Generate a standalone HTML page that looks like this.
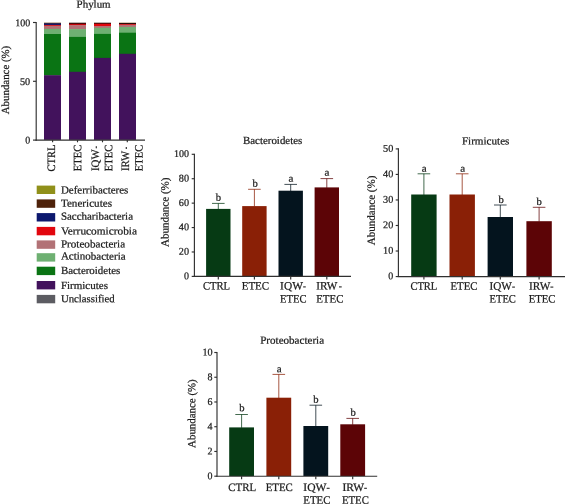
<!DOCTYPE html>
<html><head><meta charset="utf-8"><title>Phylum abundance</title>
<style>
html,body{margin:0;padding:0;background:#fff;}
svg{display:block;font-family:"Liberation Serif", "DejaVu Serif", serif;}
svg text{fill:#1c1c1c;stroke:#1c1c1c;stroke-width:0.24px;}
</style></head>
<body>
<svg width="565" height="504" viewBox="0 0 565 504">
<rect x="0" y="0" width="565" height="504" fill="#ffffff"/>
<g id="phylum">
<text transform="translate(76.6,7.8) rotate(0.05)" font-size="10.9" text-anchor="start" textLength="34" lengthAdjust="spacingAndGlyphs">Phylum</text>
<text transform="translate(9.0,80) rotate(-89.95)" font-size="10.9" text-anchor="middle" textLength="68.5" lengthAdjust="spacingAndGlyphs">Abundance (%)</text>
<rect x="44.00" y="22.55" width="17.00" height="0.60" fill="#d8b890"/>
<rect x="44.00" y="22.85" width="17.00" height="0.95" fill="#2a0e0a"/>
<rect x="44.00" y="23.50" width="17.00" height="1.70" fill="#0c186e"/>
<rect x="44.00" y="24.90" width="17.00" height="1.10" fill="#e2060e"/>
<rect x="44.00" y="25.70" width="17.00" height="3.50" fill="#b27276"/>
<rect x="44.00" y="28.90" width="17.00" height="5.40" fill="#6eb072"/>
<rect x="44.00" y="34.00" width="17.00" height="41.50" fill="#0a7414"/>
<rect x="44.00" y="75.20" width="17.00" height="64.70" fill="#42125c"/>
<rect x="69.00" y="22.70" width="17.00" height="1.40" fill="#2a0e0a"/>
<rect x="69.00" y="23.80" width="17.00" height="1.75" fill="#c6040c"/>
<rect x="69.00" y="25.25" width="17.00" height="4.15" fill="#b27276"/>
<rect x="69.00" y="29.10" width="17.00" height="8.10" fill="#6eb072"/>
<rect x="69.00" y="36.90" width="17.00" height="35.20" fill="#0a7414"/>
<rect x="69.00" y="71.80" width="17.00" height="68.10" fill="#42125c"/>
<rect x="94.00" y="22.70" width="17.00" height="1.30" fill="#2a0e0a"/>
<rect x="94.00" y="23.70" width="17.00" height="2.60" fill="#e2060e"/>
<rect x="94.00" y="26.00" width="17.00" height="2.05" fill="#b27276"/>
<rect x="94.00" y="27.75" width="17.00" height="6.45" fill="#6eb072"/>
<rect x="94.00" y="33.90" width="17.00" height="24.30" fill="#0a7414"/>
<rect x="94.00" y="57.90" width="17.00" height="82.00" fill="#42125c"/>
<rect x="119.00" y="22.55" width="17.00" height="0.65" fill="#d8b890"/>
<rect x="119.00" y="22.90" width="17.00" height="1.40" fill="#2a0e0a"/>
<rect x="119.00" y="24.00" width="17.00" height="1.00" fill="#e2060e"/>
<rect x="119.00" y="24.70" width="17.00" height="2.50" fill="#b27276"/>
<rect x="119.00" y="26.90" width="17.00" height="6.10" fill="#6eb072"/>
<rect x="119.00" y="32.70" width="17.00" height="21.40" fill="#0a7414"/>
<rect x="119.00" y="53.80" width="17.00" height="86.10" fill="#42125c"/>
<line x1="36.2" y1="21.9" x2="36.2" y2="140.7" stroke="#303030" stroke-width="1.15"/>
<line x1="35.55" y1="140.1" x2="145" y2="140.1" stroke="#303030" stroke-width="1.15"/>
<line x1="33.0" y1="22.5" x2="36.2" y2="22.5" stroke="#303030" stroke-width="1.15"/>
<line x1="33.0" y1="81.3" x2="36.2" y2="81.3" stroke="#303030" stroke-width="1.15"/>
<line x1="33.0" y1="140.1" x2="36.2" y2="140.1" stroke="#303030" stroke-width="1.15"/>
<line x1="52.6" y1="140.1" x2="52.6" y2="142.3" stroke="#303030" stroke-width="1.15"/>
<line x1="77.5" y1="140.1" x2="77.5" y2="142.3" stroke="#303030" stroke-width="1.15"/>
<line x1="102.5" y1="140.1" x2="102.5" y2="142.3" stroke="#303030" stroke-width="1.15"/>
<line x1="127.3" y1="140.1" x2="127.3" y2="142.3" stroke="#303030" stroke-width="1.15"/>
<text transform="translate(30.2,26.2) rotate(0.05)" font-size="10.3" text-anchor="end" textLength="15.0" lengthAdjust="spacingAndGlyphs">100</text>
<text transform="translate(30.2,84.9) rotate(0.05)" font-size="10.3" text-anchor="end" textLength="10.2" lengthAdjust="spacingAndGlyphs">50</text>
<text transform="translate(30.2,143.6) rotate(0.05)" font-size="10.3" text-anchor="end" textLength="5.0" lengthAdjust="spacingAndGlyphs">0</text>
<text transform="translate(55.1,171.4) rotate(-89.95)" font-size="11.3" text-anchor="start" textLength="26.8" lengthAdjust="spacingAndGlyphs">CTRL</text>
<text transform="translate(81.3,171.2) rotate(-89.95)" font-size="11.3" text-anchor="start" textLength="26.5" lengthAdjust="spacingAndGlyphs">ETEC</text>
<text transform="translate(99.0,171.0) rotate(-89.95)" font-size="11.3" text-anchor="start"><tspan textLength="21.7" lengthAdjust="spacingAndGlyphs">IQW</tspan><tspan x="22.5" textLength="2.5" lengthAdjust="spacingAndGlyphs">-</tspan></text>
<text transform="translate(112.3,171.2) rotate(-89.95)" font-size="11.3" text-anchor="start" textLength="26.5" lengthAdjust="spacingAndGlyphs">ETEC</text>
<text transform="translate(129.1,171.0) rotate(-89.95)" font-size="11.3" text-anchor="start"><tspan textLength="20.2" lengthAdjust="spacingAndGlyphs">IRW</tspan><tspan x="21.8" textLength="2.5" lengthAdjust="spacingAndGlyphs">-</tspan></text>
<text transform="translate(142.4,171.2) rotate(-89.95)" font-size="11.3" text-anchor="start" textLength="26.5" lengthAdjust="spacingAndGlyphs">ETEC</text>
</g>
<g id="legend">
<rect x="36.70" y="185.60" width="18.50" height="8.40" fill="#90901a"/>
<text transform="translate(60.9,193.4) rotate(0.05)" font-size="10.9" text-anchor="start" textLength="67.4" lengthAdjust="spacingAndGlyphs">Deferribacteres</text>
<rect x="36.70" y="199.40" width="18.50" height="8.40" fill="#4e220a"/>
<text transform="translate(60.9,206.8) rotate(0.05)" font-size="10.9" text-anchor="start" textLength="51.1" lengthAdjust="spacingAndGlyphs">Tenericutes</text>
<rect x="36.70" y="213.10" width="18.50" height="8.40" fill="#0c186e"/>
<text transform="translate(60.9,219.8) rotate(0.05)" font-size="10.9" text-anchor="start" textLength="72.1" lengthAdjust="spacingAndGlyphs">Saccharibacteria</text>
<rect x="36.70" y="226.90" width="18.50" height="8.40" fill="#e2060e"/>
<text transform="translate(60.9,234.4) rotate(0.05)" font-size="10.9" text-anchor="start" textLength="76.1" lengthAdjust="spacingAndGlyphs">Verrucomicrobia</text>
<rect x="36.70" y="240.40" width="18.50" height="8.40" fill="#b27276"/>
<text transform="translate(60.9,247.5) rotate(0.05)" font-size="10.9" text-anchor="start" textLength="64.2" lengthAdjust="spacingAndGlyphs">Proteobacteria</text>
<rect x="36.70" y="253.20" width="18.50" height="8.40" fill="#6eb072"/>
<text transform="translate(60.9,259.6) rotate(0.05)" font-size="10.9" text-anchor="start" textLength="64.7" lengthAdjust="spacingAndGlyphs">Actinobacteria</text>
<rect x="36.70" y="266.70" width="18.50" height="8.40" fill="#0a7414"/>
<text transform="translate(60.9,273.9) rotate(0.05)" font-size="10.9" text-anchor="start" textLength="59.4" lengthAdjust="spacingAndGlyphs">Bacteroidetes</text>
<rect x="36.70" y="281.00" width="18.50" height="8.40" fill="#42125c"/>
<text transform="translate(60.9,288.9) rotate(0.05)" font-size="10.9" text-anchor="start" textLength="47.1" lengthAdjust="spacingAndGlyphs">Firmicutes</text>
<rect x="36.70" y="294.90" width="18.50" height="8.40" fill="#5c5c62"/>
<text transform="translate(60.9,302.2) rotate(0.05)" font-size="10.9" text-anchor="start" textLength="53.8" lengthAdjust="spacingAndGlyphs">Unclassified</text>
</g>
<g id="bacteroidetes">
<text transform="translate(243.0,144.0) rotate(0.05)" font-size="10.9" text-anchor="start" textLength="59.3" lengthAdjust="spacingAndGlyphs">Bacteroidetes</text>
<text transform="translate(168.6,212.3) rotate(-89.95)" font-size="10.9" text-anchor="middle" textLength="69.5" lengthAdjust="spacingAndGlyphs">Abundance (%)</text>
<line x1="218.3" y1="203.4" x2="218.3" y2="209.4" stroke="#063a14" stroke-width="0.75"/>
<line x1="212.0" y1="203.4" x2="224.60000000000002" y2="203.4" stroke="#063a14" stroke-width="0.75"/>
<rect x="206.10" y="208.90" width="24.40" height="67.30" fill="#063a14"/>
<text transform="translate(218.4,200.7) rotate(0.05)" font-size="10.5" text-anchor="middle" textLength="5.3" lengthAdjust="spacingAndGlyphs">b</text>
<line x1="254.4" y1="189.3" x2="254.4" y2="206.6" stroke="#8a2006" stroke-width="0.75"/>
<line x1="248.1" y1="189.3" x2="260.7" y2="189.3" stroke="#8a2006" stroke-width="0.75"/>
<rect x="242.20" y="206.10" width="24.40" height="70.10" fill="#8a2006"/>
<text transform="translate(255.1,186.7) rotate(0.05)" font-size="10.5" text-anchor="middle" textLength="5.3" lengthAdjust="spacingAndGlyphs">b</text>
<line x1="290.7" y1="184.4" x2="290.7" y2="191.2" stroke="#04141e" stroke-width="0.75"/>
<line x1="284.4" y1="184.4" x2="297.0" y2="184.4" stroke="#04141e" stroke-width="0.75"/>
<rect x="278.50" y="190.70" width="24.40" height="85.50" fill="#04141e"/>
<text transform="translate(291.0,181.7) rotate(0.05)" font-size="10.5" text-anchor="middle" textLength="4.9" lengthAdjust="spacingAndGlyphs">a</text>
<line x1="326.8" y1="178.6" x2="326.8" y2="187.9" stroke="#5c0406" stroke-width="0.75"/>
<line x1="320.5" y1="178.6" x2="333.1" y2="178.6" stroke="#5c0406" stroke-width="0.75"/>
<rect x="314.60" y="187.40" width="24.40" height="88.80" fill="#5c0406"/>
<text transform="translate(326.95,175.8) rotate(0.05)" font-size="10.5" text-anchor="middle" textLength="4.9" lengthAdjust="spacingAndGlyphs">a</text>
<line x1="194.4" y1="153.75" x2="194.4" y2="276.95" stroke="#303030" stroke-width="1.15"/>
<line x1="193.75" y1="276.4" x2="351" y2="276.4" stroke="#303030" stroke-width="1.15"/>
<line x1="191.70000000000002" y1="154.3" x2="194.4" y2="154.3" stroke="#303030" stroke-width="1.15"/>
<text transform="translate(189.0,157.10000000000002) rotate(0.05)" font-size="10.3" text-anchor="end" textLength="15.0" lengthAdjust="spacingAndGlyphs">100</text>
<line x1="191.70000000000002" y1="178.72" x2="194.4" y2="178.72" stroke="#303030" stroke-width="1.15"/>
<text transform="translate(189.0,181.52) rotate(0.05)" font-size="10.3" text-anchor="end" textLength="10.2" lengthAdjust="spacingAndGlyphs">80</text>
<line x1="191.70000000000002" y1="203.14" x2="194.4" y2="203.14" stroke="#303030" stroke-width="1.15"/>
<text transform="translate(189.0,205.94) rotate(0.05)" font-size="10.3" text-anchor="end" textLength="10.2" lengthAdjust="spacingAndGlyphs">60</text>
<line x1="191.70000000000002" y1="227.56" x2="194.4" y2="227.56" stroke="#303030" stroke-width="1.15"/>
<text transform="translate(189.0,230.36) rotate(0.05)" font-size="10.3" text-anchor="end" textLength="10.2" lengthAdjust="spacingAndGlyphs">40</text>
<line x1="191.70000000000002" y1="251.98" x2="194.4" y2="251.98" stroke="#303030" stroke-width="1.15"/>
<text transform="translate(189.0,254.78) rotate(0.05)" font-size="10.3" text-anchor="end" textLength="10.2" lengthAdjust="spacingAndGlyphs">20</text>
<line x1="191.70000000000002" y1="276.4" x2="194.4" y2="276.4" stroke="#303030" stroke-width="1.15"/>
<text transform="translate(189.0,279.2) rotate(0.05)" font-size="10.3" text-anchor="end" textLength="5.0" lengthAdjust="spacingAndGlyphs">0</text>
<line x1="218.3" y1="276.4" x2="218.3" y2="279.4" stroke="#303030" stroke-width="1.15"/>
<line x1="254.4" y1="276.4" x2="254.4" y2="279.4" stroke="#303030" stroke-width="1.15"/>
<line x1="290.7" y1="276.4" x2="290.7" y2="279.4" stroke="#303030" stroke-width="1.15"/>
<line x1="326.8" y1="276.4" x2="326.8" y2="279.4" stroke="#303030" stroke-width="1.15"/>
<text transform="translate(203.0,289.4) rotate(0.05)" font-size="11.3" text-anchor="start" textLength="27.1" lengthAdjust="spacingAndGlyphs">CTRL</text>
<text transform="translate(241.7,289.4) rotate(0.05)" font-size="11.3" text-anchor="start" textLength="27.4" lengthAdjust="spacingAndGlyphs">ETEC</text>
<text transform="translate(280.1,289.4) rotate(0.05)" font-size="11.3" text-anchor="start"><tspan textLength="22.8" lengthAdjust="spacingAndGlyphs">IQW</tspan><tspan x="22.8" textLength="2.9" lengthAdjust="spacingAndGlyphs">-</tspan></text>
<text transform="translate(280.1,302.4) rotate(0.05)" font-size="11.3" text-anchor="start" textLength="26.4" lengthAdjust="spacingAndGlyphs">ETEC</text>
<text transform="translate(316.2,289.4) rotate(0.05)" font-size="11.3" text-anchor="start"><tspan textLength="21.1" lengthAdjust="spacingAndGlyphs">IRW</tspan><tspan x="22.6" textLength="3.1" lengthAdjust="spacingAndGlyphs">-</tspan></text>
<text transform="translate(316.2,302.4) rotate(0.05)" font-size="11.3" text-anchor="start" textLength="27.2" lengthAdjust="spacingAndGlyphs">ETEC</text>
</g>
<g id="firmicutes">
<text transform="translate(461.9,144.5) rotate(0.05)" font-size="10.9" text-anchor="start" textLength="47.5" lengthAdjust="spacingAndGlyphs">Firmicutes</text>
<text transform="translate(374.7,210.4) rotate(-89.95)" font-size="10.9" text-anchor="middle" textLength="69.5" lengthAdjust="spacingAndGlyphs">Abundance (%)</text>
<line x1="423.9" y1="173.8" x2="423.9" y2="195.0" stroke="#063a14" stroke-width="0.75"/>
<line x1="417.59999999999997" y1="173.8" x2="430.2" y2="173.8" stroke="#063a14" stroke-width="0.75"/>
<rect x="411.20" y="194.50" width="25.40" height="81.85" fill="#063a14"/>
<text transform="translate(424.29999999999995,171.7) rotate(0.05)" font-size="10.5" text-anchor="middle" textLength="4.9" lengthAdjust="spacingAndGlyphs">a</text>
<line x1="462.2" y1="173.8" x2="462.2" y2="195.0" stroke="#8a2006" stroke-width="0.75"/>
<line x1="455.9" y1="173.8" x2="468.5" y2="173.8" stroke="#8a2006" stroke-width="0.75"/>
<rect x="449.50" y="194.50" width="25.40" height="81.85" fill="#8a2006"/>
<text transform="translate(462.8,171.7) rotate(0.05)" font-size="10.5" text-anchor="middle" textLength="4.9" lengthAdjust="spacingAndGlyphs">a</text>
<line x1="500.3" y1="205.0" x2="500.3" y2="217.5" stroke="#04141e" stroke-width="0.75"/>
<line x1="494.0" y1="205.0" x2="506.6" y2="205.0" stroke="#04141e" stroke-width="0.75"/>
<rect x="487.60" y="217.00" width="25.40" height="59.35" fill="#04141e"/>
<text transform="translate(501.1,203.1) rotate(0.05)" font-size="10.5" text-anchor="middle" textLength="5.3" lengthAdjust="spacingAndGlyphs">b</text>
<line x1="539.1" y1="207.3" x2="539.1" y2="221.7" stroke="#5c0406" stroke-width="0.75"/>
<line x1="532.8000000000001" y1="207.3" x2="545.4" y2="207.3" stroke="#5c0406" stroke-width="0.75"/>
<rect x="526.40" y="221.20" width="25.40" height="55.15" fill="#5c0406"/>
<text transform="translate(539.1,204.9) rotate(0.05)" font-size="10.5" text-anchor="middle" textLength="5.3" lengthAdjust="spacingAndGlyphs">b</text>
<line x1="398.4" y1="148.35" x2="398.4" y2="277.1" stroke="#303030" stroke-width="1.15"/>
<line x1="397.75" y1="276.55" x2="565" y2="276.55" stroke="#303030" stroke-width="1.15"/>
<line x1="395.7" y1="148.9" x2="398.4" y2="148.9" stroke="#303030" stroke-width="1.15"/>
<text transform="translate(393.3,151.70000000000002) rotate(0.05)" font-size="10.3" text-anchor="end" textLength="10.2" lengthAdjust="spacingAndGlyphs">50</text>
<line x1="395.7" y1="174.43" x2="398.4" y2="174.43" stroke="#303030" stroke-width="1.15"/>
<text transform="translate(393.3,177.23000000000002) rotate(0.05)" font-size="10.3" text-anchor="end" textLength="10.2" lengthAdjust="spacingAndGlyphs">40</text>
<line x1="395.7" y1="199.96" x2="398.4" y2="199.96" stroke="#303030" stroke-width="1.15"/>
<text transform="translate(393.3,202.76000000000002) rotate(0.05)" font-size="10.3" text-anchor="end" textLength="10.2" lengthAdjust="spacingAndGlyphs">30</text>
<line x1="395.7" y1="225.49" x2="398.4" y2="225.49" stroke="#303030" stroke-width="1.15"/>
<text transform="translate(393.3,228.29000000000002) rotate(0.05)" font-size="10.3" text-anchor="end" textLength="10.2" lengthAdjust="spacingAndGlyphs">20</text>
<line x1="395.7" y1="251.02" x2="398.4" y2="251.02" stroke="#303030" stroke-width="1.15"/>
<text transform="translate(393.3,253.82000000000002) rotate(0.05)" font-size="10.3" text-anchor="end" textLength="10.2" lengthAdjust="spacingAndGlyphs">10</text>
<line x1="395.7" y1="276.55" x2="398.4" y2="276.55" stroke="#303030" stroke-width="1.15"/>
<text transform="translate(393.3,279.35) rotate(0.05)" font-size="10.3" text-anchor="end" textLength="5.0" lengthAdjust="spacingAndGlyphs">0</text>
<line x1="423.9" y1="276.55" x2="423.9" y2="279.55" stroke="#303030" stroke-width="1.15"/>
<line x1="462.2" y1="276.55" x2="462.2" y2="279.55" stroke="#303030" stroke-width="1.15"/>
<line x1="500.3" y1="276.55" x2="500.3" y2="279.55" stroke="#303030" stroke-width="1.15"/>
<line x1="539.1" y1="276.55" x2="539.1" y2="279.55" stroke="#303030" stroke-width="1.15"/>
<text transform="translate(410.4,289.7) rotate(0.05)" font-size="11.3" text-anchor="start" textLength="26.9" lengthAdjust="spacingAndGlyphs">CTRL</text>
<text transform="translate(450.5,289.7) rotate(0.05)" font-size="11.3" text-anchor="start" textLength="27.1" lengthAdjust="spacingAndGlyphs">ETEC</text>
<text transform="translate(489.5,289.7) rotate(0.05)" font-size="11.3" text-anchor="start"><tspan textLength="22.4" lengthAdjust="spacingAndGlyphs">IQW</tspan><tspan x="22.4" textLength="3.1" lengthAdjust="spacingAndGlyphs">-</tspan></text>
<text transform="translate(489.5,302.5) rotate(0.05)" font-size="11.3" text-anchor="start" textLength="26.4" lengthAdjust="spacingAndGlyphs">ETEC</text>
<text transform="translate(529.1,289.7) rotate(0.05)" font-size="11.3" text-anchor="start"><tspan textLength="21.3" lengthAdjust="spacingAndGlyphs">IRW</tspan><tspan x="21.1" textLength="3.2" lengthAdjust="spacingAndGlyphs">-</tspan></text>
<text transform="translate(528.7,302.5) rotate(0.05)" font-size="11.3" text-anchor="start" textLength="26.8" lengthAdjust="spacingAndGlyphs">ETEC</text>
</g>
<g id="proteobacteria">
<text transform="translate(260.2,343.8) rotate(0.05)" font-size="10.9" text-anchor="start" textLength="63.9" lengthAdjust="spacingAndGlyphs">Proteobacteria</text>
<text transform="translate(195.3,413.6) rotate(-89.95)" font-size="10.9" text-anchor="middle" textLength="68.6" lengthAdjust="spacingAndGlyphs">Abundance (%)</text>
<line x1="241.6" y1="414.5" x2="241.6" y2="427.9" stroke="#063a14" stroke-width="0.75"/>
<line x1="235.29999999999998" y1="414.5" x2="247.9" y2="414.5" stroke="#063a14" stroke-width="0.75"/>
<rect x="229.20" y="427.40" width="24.80" height="48.60" fill="#063a14"/>
<text transform="translate(241.9,411.2) rotate(0.05)" font-size="10.5" text-anchor="middle" textLength="5.3" lengthAdjust="spacingAndGlyphs">b</text>
<line x1="278.8" y1="374.4" x2="278.8" y2="398.2" stroke="#8a2006" stroke-width="0.75"/>
<line x1="272.5" y1="374.4" x2="285.1" y2="374.4" stroke="#8a2006" stroke-width="0.75"/>
<rect x="266.40" y="397.70" width="24.80" height="78.30" fill="#8a2006"/>
<text transform="translate(279.15000000000003,372.2) rotate(0.05)" font-size="10.5" text-anchor="middle" textLength="4.9" lengthAdjust="spacingAndGlyphs">a</text>
<line x1="315.8" y1="405.2" x2="315.8" y2="426.5" stroke="#04141e" stroke-width="0.75"/>
<line x1="309.5" y1="405.2" x2="322.1" y2="405.2" stroke="#04141e" stroke-width="0.75"/>
<rect x="303.40" y="426.00" width="24.80" height="50.00" fill="#04141e"/>
<text transform="translate(315.8,402.8) rotate(0.05)" font-size="10.5" text-anchor="middle" textLength="5.3" lengthAdjust="spacingAndGlyphs">b</text>
<line x1="352.7" y1="418.4" x2="352.7" y2="424.8" stroke="#5c0406" stroke-width="0.75"/>
<line x1="346.4" y1="418.4" x2="359.0" y2="418.4" stroke="#5c0406" stroke-width="0.75"/>
<rect x="340.30" y="424.30" width="24.80" height="51.70" fill="#5c0406"/>
<text transform="translate(353.09999999999997,415.7) rotate(0.05)" font-size="10.5" text-anchor="middle" textLength="5.3" lengthAdjust="spacingAndGlyphs">b</text>
<line x1="217.0" y1="351.95" x2="217.0" y2="476.75" stroke="#303030" stroke-width="1.15"/>
<line x1="216.35" y1="476.2" x2="377.2" y2="476.2" stroke="#303030" stroke-width="1.15"/>
<line x1="214.3" y1="352.5" x2="217.0" y2="352.5" stroke="#303030" stroke-width="1.15"/>
<text transform="translate(212.6,355.6) rotate(0.05)" font-size="10.3" text-anchor="end" textLength="10.2" lengthAdjust="spacingAndGlyphs">10</text>
<line x1="214.3" y1="377.24" x2="217.0" y2="377.24" stroke="#303030" stroke-width="1.15"/>
<text transform="translate(212.6,380.34000000000003) rotate(0.05)" font-size="10.3" text-anchor="end" textLength="5.0" lengthAdjust="spacingAndGlyphs">8</text>
<line x1="214.3" y1="401.98" x2="217.0" y2="401.98" stroke="#303030" stroke-width="1.15"/>
<text transform="translate(212.6,405.08000000000004) rotate(0.05)" font-size="10.3" text-anchor="end" textLength="5.0" lengthAdjust="spacingAndGlyphs">6</text>
<line x1="214.3" y1="426.72" x2="217.0" y2="426.72" stroke="#303030" stroke-width="1.15"/>
<text transform="translate(212.6,429.82000000000005) rotate(0.05)" font-size="10.3" text-anchor="end" textLength="5.0" lengthAdjust="spacingAndGlyphs">4</text>
<line x1="214.3" y1="451.46" x2="217.0" y2="451.46" stroke="#303030" stroke-width="1.15"/>
<text transform="translate(212.6,454.56) rotate(0.05)" font-size="10.3" text-anchor="end" textLength="5.0" lengthAdjust="spacingAndGlyphs">2</text>
<line x1="214.3" y1="476.2" x2="217.0" y2="476.2" stroke="#303030" stroke-width="1.15"/>
<text transform="translate(212.6,479.3) rotate(0.05)" font-size="10.3" text-anchor="end" textLength="5.0" lengthAdjust="spacingAndGlyphs">0</text>
<line x1="241.6" y1="476.2" x2="241.6" y2="479.2" stroke="#303030" stroke-width="1.15"/>
<line x1="278.8" y1="476.2" x2="278.8" y2="479.2" stroke="#303030" stroke-width="1.15"/>
<line x1="315.8" y1="476.2" x2="315.8" y2="479.2" stroke="#303030" stroke-width="1.15"/>
<line x1="352.7" y1="476.2" x2="352.7" y2="479.2" stroke="#303030" stroke-width="1.15"/>
<text transform="translate(228.3,491.0) rotate(0.05)" font-size="11.3" text-anchor="start" textLength="27.8" lengthAdjust="spacingAndGlyphs">CTRL</text>
<text transform="translate(265.7,491.0) rotate(0.05)" font-size="11.3" text-anchor="start" textLength="27.1" lengthAdjust="spacingAndGlyphs">ETEC</text>
<text transform="translate(303.3,491.0) rotate(0.05)" font-size="11.3" text-anchor="start"><tspan textLength="23.2" lengthAdjust="spacingAndGlyphs">IQW</tspan><tspan x="23.1" textLength="3.3" lengthAdjust="spacingAndGlyphs">-</tspan></text>
<text transform="translate(303.3,503.7) rotate(0.05)" font-size="11.3" text-anchor="start" textLength="27.2" lengthAdjust="spacingAndGlyphs">ETEC</text>
<text transform="translate(342.4,491.0) rotate(0.05)" font-size="11.3" text-anchor="start"><tspan textLength="21.6" lengthAdjust="spacingAndGlyphs">IRW</tspan><tspan x="21.7" textLength="3.1" lengthAdjust="spacingAndGlyphs">-</tspan></text>
<text transform="translate(342.0,503.7) rotate(0.05)" font-size="11.3" text-anchor="start" textLength="26.8" lengthAdjust="spacingAndGlyphs">ETEC</text>
</g>
</svg>
</body></html>
